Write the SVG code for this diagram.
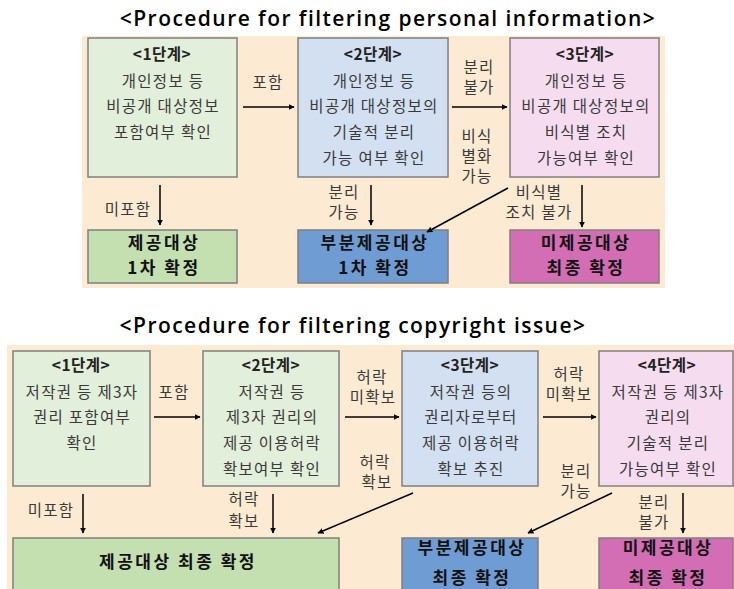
<svg xmlns="http://www.w3.org/2000/svg" width="734" height="589" viewBox="0 0 734 589">
<style>
.bg{fill:#FCEBD2}
.box{stroke:#7F7F7F;stroke-width:1.5}
.g1{fill:#E2EFDA}.b1{fill:#D3E0F1}.p1{fill:#F6DCEF}
.g2{fill:#C4DFB0}.b2{fill:#6F9CD3}.p2{fill:#D36DB4}
text{font-family:"Noto Sans CJK KR","Noto Sans",sans-serif;font-size:15.5px;letter-spacing:1.3px;fill:#3a3a3a;text-anchor:middle}
.h{font-weight:bold;fill:#222;letter-spacing:0.5px}
.r{font-weight:bold;font-size:17px;letter-spacing:2.5px;fill:#111}
.t{font-family:"Open Sans","Noto Sans",sans-serif;font-weight:600;font-size:21px;letter-spacing:1.45px;fill:#000}
.c line{stroke:#000;stroke-width:1.5;marker-end:url(#ah)}
</style>
<defs>
<marker id="ah" viewBox="0 0 10 10" refX="9" refY="5" markerWidth="6" markerHeight="6" markerUnits="userSpaceOnUse" orient="auto"><path d="M0,0L10,5L0,10z" fill="#000"/></marker>
</defs>
<rect width="734" height="589" fill="#fff"/>
<text class="t" x="388" y="26">&lt;Procedure for filtering personal information&gt;</text>
<text class="t" x="353" y="333">&lt;Procedure for filtering copyright issue&gt;</text>
<rect class="bg" x="82" y="36" width="583" height="252"/>
<rect class="bg" x="7" y="345" width="727" height="244"/>

<g id="p1">
<rect class="box g1" x="88" y="38" width="149" height="139"/>
<text class="h" x="162" y="60">&lt;1단계&gt;</text>
<text x="163" y="87">개인정보 등</text>
<text x="163" y="112">비공개 대상정보</text>
<text x="163" y="138">포함여부 확인</text>
</g>
<g id="p2">
<rect class="box b1" x="298" y="38" width="150" height="139"/>
<text class="h" x="373" y="60">&lt;2단계&gt;</text>
<text x="374" y="87">개인정보 등</text>
<text x="374" y="112">비공개 대상정보의</text>
<text x="374" y="138">기술적 분리</text>
<text x="374" y="164">가능 여부 확인</text>
</g>
<g id="p3">
<rect class="box p1" x="510" y="38" width="149" height="139"/>
<text class="h" x="585" y="60">&lt;3단계&gt;</text>
<text x="586" y="87">개인정보 등</text>
<text x="586" y="112">비공개 대상정보의</text>
<text x="586" y="138">비식별 조치</text>
<text x="586" y="164">가능여부 확인</text>
</g>
<g id="pa">
<rect class="box g2" x="88" y="230" width="149" height="53"/>
<text class="r" x="164" y="249">제공대상</text>
<text class="r" x="164" y="274">1차 확정</text>
</g>
<g id="pb">
<rect class="box b2" x="298" y="230" width="150" height="53"/>
<text class="r" x="375" y="249">부분제공대상</text>
<text class="r" x="375" y="274">1차 확정</text>
</g>
<g id="pc">
<rect class="box p2" x="510" y="230" width="149" height="53"/>
<text class="r" x="586" y="249">미제공대상</text>
<text class="r" x="586" y="274">최종 확정</text>
</g>

<g id="c1" class="c">
<line x1="243" y1="107" x2="294" y2="107"/>
<line x1="452" y1="107" x2="507" y2="107"/>
<line x1="160" y1="185" x2="160" y2="225"/>
<line x1="371" y1="185" x2="371" y2="225"/>
<line x1="582" y1="185" x2="582" y2="227"/>
<line x1="508" y1="188" x2="427" y2="232"/>
</g>
<g id="l1">
<text x="268" y="88">포함</text>
<text x="479" y="73">분리</text>
<text x="479" y="93">불가</text>
<text x="477" y="142">비식</text>
<text x="477" y="162">별화</text>
<text x="477" y="182">가능</text>
<text x="128" y="215">미포함</text>
<text x="344" y="198">분리</text>
<text x="344" y="218">가능</text>
<text x="539" y="198">비식별</text>
<text x="539" y="218">조치 불가</text>
</g>

<g id="q1">
<rect class="box g1" x="13" y="351" width="137" height="135"/>
<text class="h" x="81" y="371">&lt;1단계&gt;</text>
<text x="82" y="398">저작권 등 제3자</text>
<text x="82" y="423">권리 포함여부</text>
<text x="82" y="449">확인</text>
</g>
<g id="q2">
<rect class="box g1" x="203" y="351" width="136" height="135"/>
<text class="h" x="271" y="371">&lt;2단계&gt;</text>
<text x="272" y="398">저작권 등</text>
<text x="272" y="423">제3자 권리의</text>
<text x="272" y="449">제공 이용허락</text>
<text x="272" y="475">확보여부 확인</text>
</g>
<g id="q3">
<rect class="box b1" x="402" y="351" width="136" height="135"/>
<text class="h" x="470" y="371">&lt;3단계&gt;</text>
<text x="471" y="398">저작권 등의</text>
<text x="471" y="423">권리자로부터</text>
<text x="471" y="449">제공 이용허락</text>
<text x="471" y="475">확보 추진</text>
</g>
<g id="q4">
<rect class="box p1" x="599" y="351" width="134" height="135"/>
<text class="h" x="667" y="371">&lt;4단계&gt;</text>
<text x="668" y="398">저작권 등 제3자</text>
<text x="668" y="423">권리의</text>
<text x="668" y="449">기술적 분리</text>
<text x="668" y="475">가능여부 확인</text>
</g>
<g id="qa">
<rect class="box g2" x="13" y="538" width="326" height="60"/>
<text class="r" x="178" y="568">제공대상 최종 확정</text>
</g>
<g id="qb">
<rect class="box b2" x="402" y="538" width="136" height="60"/>
<text class="r" x="472" y="554">부분제공대상</text>
<text class="r" x="472" y="584">최종 확정</text>
</g>
<g id="qc">
<rect class="box p2" x="599" y="538" width="134" height="60"/>
<text class="r" x="668" y="554">미제공대상</text>
<text class="r" x="668" y="584">최종 확정</text>
</g>

<g id="c2" class="c">
<line x1="154" y1="417" x2="200" y2="417"/>
<line x1="345" y1="417" x2="399" y2="417"/>
<line x1="543" y1="417" x2="596" y2="417"/>
<line x1="83" y1="494" x2="83" y2="533"/>
<line x1="273" y1="494" x2="273" y2="533"/>
<line x1="413" y1="493" x2="318" y2="533"/>
<line x1="612" y1="493" x2="528" y2="533"/>
<line x1="683" y1="493" x2="683" y2="533"/>
</g>
<g id="l2">
<text x="174" y="398">포함</text>
<text x="372" y="383">허락</text>
<text x="373" y="403">미확보</text>
<text x="569" y="380">허락</text>
<text x="569" y="400">미확보</text>
<text x="375" y="468">허락</text>
<text x="377" y="488">확보</text>
<text x="51" y="516">미포함</text>
<text x="244" y="505">허락</text>
<text x="244" y="527">확보</text>
<text x="576" y="477">분리</text>
<text x="576" y="497">가능</text>
<text x="654" y="508">분리</text>
<text x="654" y="528">불가</text>
</g>
</svg>
